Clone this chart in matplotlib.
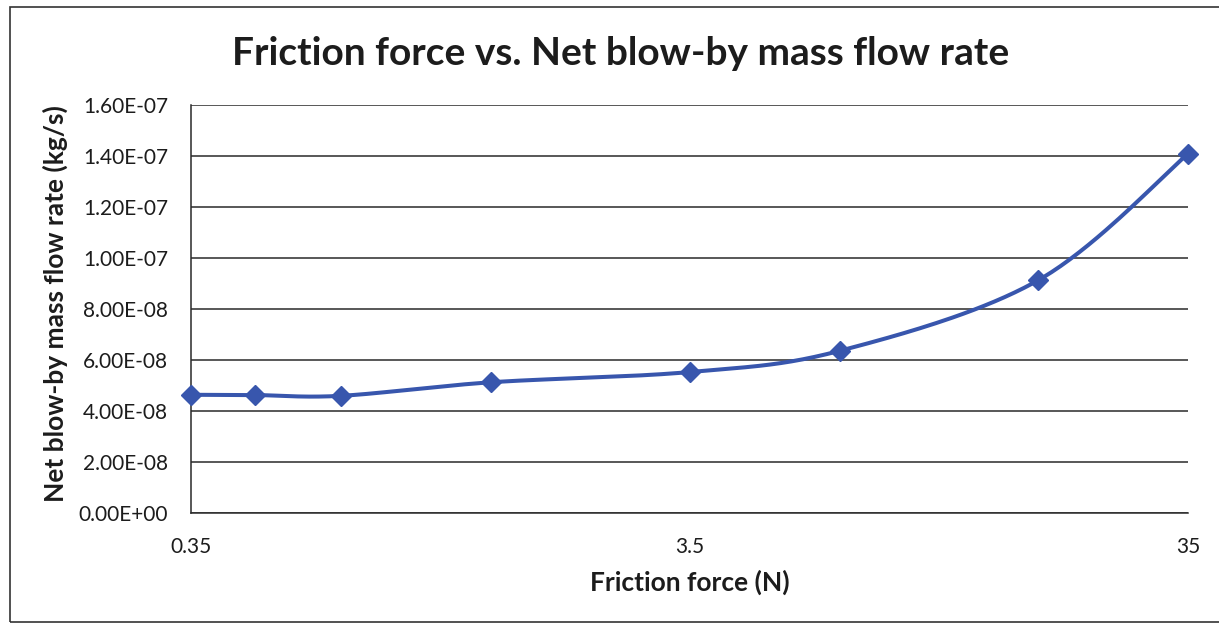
import matplotlib
matplotlib.use("Agg")
import matplotlib.pyplot as plt
import numpy as np
from matplotlib.patches import Rectangle
from matplotlib.ticker import FuncFormatter, NullLocator

plt.rcParams["font.family"] = ["Lato", "DejaVu Sans"]

# friction force (N) and net blow-by (kg/s)
friction = [0.35, 0.47, 0.7, 1.4, 3.5, 7.0, 17.5, 35.0]
blowby = [4.65e-8, 4.64e-8, 4.61e-8, 5.14e-8, 5.54e-8, 6.37e-8, 9.13e-8, 1.409e-7]
x_ticks = [0.35, 3.5, 35]
x_tick_labels = ["0.35", "3.5", "35"]
y_ticks = [0, 2e-8, 4e-8, 6e-8, 8e-8, 1e-7, 1.2e-7, 1.4e-7, 1.6e-7]

LINE_BLUE = "#3856ad"
TEXT = "#1c1c1c"


def smooth_curve(xs, ys, xlim, ylim, n=40):
    """Bezier smoothing (spreadsheet style) in normalised log-x / linear-y space."""
    u = (np.log10(xs) - np.log10(xlim[0])) / (np.log10(xlim[1]) - np.log10(xlim[0]))
    v = (np.asarray(ys) - ylim[0]) / (ylim[1] - ylim[0])
    pts = np.column_stack([u, v])
    out = []
    for i in range(len(pts) - 1):
        p0 = pts[i - 1] if i > 0 else pts[i]
        p1, p2 = pts[i], pts[i + 1]
        p3 = pts[i + 2] if i + 2 < len(pts) else pts[i + 1]
        c1 = p1 + (p2 - p0) / 6
        c2 = p2 - (p3 - p1) / 6
        t = np.linspace(0, 1, n)[:, None]
        seg = ((1 - t) ** 3 * p1 + 3 * (1 - t) ** 2 * t * c1
               + 3 * (1 - t) * t ** 2 * c2 + t ** 3 * p2)
        out.append(seg if i == 0 else seg[1:])
    curve = np.vstack(out)
    cx = 10 ** (np.log10(xlim[0]) + curve[:, 0] * (np.log10(xlim[1]) - np.log10(xlim[0])))
    cy = ylim[0] + curve[:, 1] * (ylim[1] - ylim[0])
    return cx, cy


fig = plt.figure(figsize=(12.19, 6.24), dpi=100)
ax = fig.add_axes([0.1567, 0.1771, 0.8179, 0.6546])

xlim = (0.35, 35)
ylim = (0, 1.6e-7)
ax.set_xscale("log")
ax.set_xlim(*xlim)
ax.set_ylim(*ylim)

cx, cy = smooth_curve(friction, blowby, xlim, ylim)
ax.plot(cx, cy, color=LINE_BLUE, lw=2.9, solid_capstyle="round", zorder=3, clip_on=False)
ax.plot(friction, blowby, linestyle="none", marker="D", ms=10,
        color=LINE_BLUE, zorder=4, clip_on=False)

ax.set_yticks(y_ticks)
ax.yaxis.set_major_formatter(FuncFormatter(
    lambda v, p: "0.00E+00" if v == 0 else f"{v:.2E}"))
ax.set_xticks(x_ticks)
ax.set_xticklabels(x_tick_labels)
ax.xaxis.set_minor_locator(NullLocator())
ax.tick_params(axis="both", length=0, labelsize=15, colors=TEXT)
ax.tick_params(axis="x", pad=17)
ax.tick_params(axis="y", pad=16.5)

ax.grid(axis="y", color="#2a2a2a", lw=1.1)
ax.set_axisbelow(True)
for side in ("top", "right"):
    ax.spines[side].set_visible(False)
for side in ("left", "bottom"):
    ax.spines[side].set_color("#2a2a2a")
    ax.spines[side].set_linewidth(1.1)

ax.set_xlabel("Friction force (N)", fontsize=19, fontweight="bold", color=TEXT)
ax.set_ylabel("Net blow-by mass flow rate (kg/s)", fontsize=19,
              fontweight="bold", color=TEXT)
ax.xaxis.set_label_coords(0.5005, -0.138)
ax.yaxis.set_label_coords(-0.1234, 0.514)
fig.text(0.509, 0.915, "Friction force vs. Net blow-by mass flow rate",
         fontsize=28, fontweight="bold", color=TEXT, ha="center", va="center")

# chart border
fig.add_artist(Rectangle((10 / 1219, 2 / 624), 1.0, 615 / 624,
                         transform=fig.transFigure, fill=False,
                         edgecolor="#333333", lw=1.2))

fig.savefig("out.png", dpi=100, facecolor="white")
